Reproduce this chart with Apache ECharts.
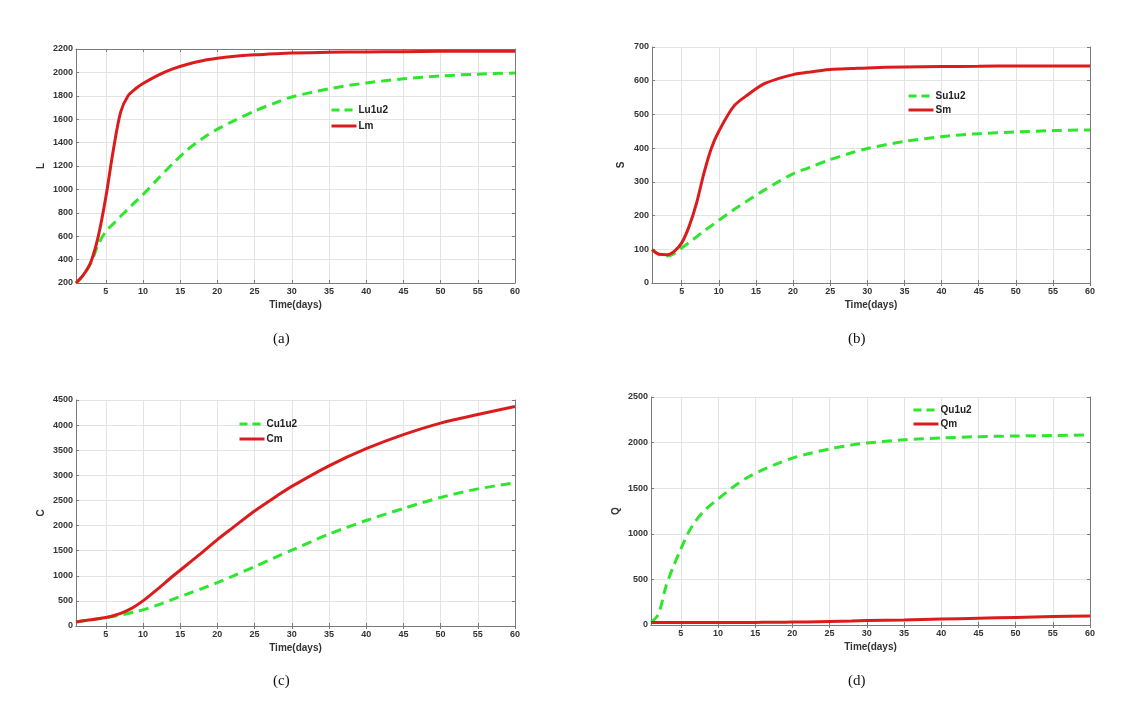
<!DOCTYPE html>
<html>
<head>
<meta charset="utf-8">
<style>
    html, body { margin: 0; padding: 0; background: #fff; }
    #chart { width: 1133px; height: 722px; }
</style>
</head>
<body>
<div id="chart"></div>
<script src="https://cdn.jsdelivr.net/npm/echarts@6.0.0/dist/echarts.min.js"></script>
<script>
    // time points (days) shared by every curve
    var days = [1, 2, 3, 4, 5, 6, 7, 8, 9, 10, 12, 14, 16, 18, 20, 22, 25, 28, 30, 35, 40, 45, 50, 55, 60];
    var xTicks = [5, 10, 15, 20, 25, 30, 35, 40, 45, 50, 55, 60];

    // (a) L
    var Lu1u2 = [200, 270, 370, 530, 640, 705, 770, 832, 895, 955, 1090, 1220, 1340, 1435, 1515, 1580, 1670, 1745, 1790, 1860, 1910, 1945, 1970, 1985, 1995];
    var Lm = [200, 270, 380, 600, 930, 1330, 1660, 1800, 1860, 1905, 1975, 2030, 2070, 2100, 2120, 2135, 2150, 2160, 2165, 2172, 2175, 2177, 2180, 2180, 2180];
    // (b) S
    var Su1u2 = [99, 84, 80, 87, 104, 120, 137, 154, 170, 186, 217, 246, 274, 300, 324, 341, 366, 387, 399, 420, 434, 443, 448, 452, 454];
    var Sm = [99, 85, 84, 94, 119, 168, 237, 326, 400, 450, 524, 560, 590, 606, 618, 625, 633, 636, 638, 641, 642, 643, 644, 644, 644];
    // (c) C
    var Cu1u2 = [80, 105, 125, 145, 165, 190, 215, 250, 285, 320, 420, 530, 640, 750, 865, 990, 1180, 1380, 1510, 1830, 2100, 2340, 2560, 2730, 2850];
    var Cm = [80, 105, 125, 145, 170, 205, 250, 315, 400, 500, 740, 990, 1230, 1470, 1720, 1950, 2290, 2590, 2780, 3190, 3530, 3810, 4040, 4210, 4370];
    // (d) Q
    var Qu1u2 = [30, 120, 420, 640, 830, 1010, 1140, 1240, 1315, 1380, 1510, 1620, 1700, 1770, 1830, 1875, 1930, 1975, 1995, 2030, 2050, 2065, 2073, 2078, 2085];
    var Qm = [28, 28, 27, 27, 27, 27, 27, 27, 27, 27, 27, 28, 29, 30, 32, 34, 38, 43, 48, 56, 65, 74, 83, 92, 100];

    var panels = [
        { grid: { left: 76, top: 49, width: 439, height: 234 }, yName: 'L', yGap: 30, min: 200, max: 2200, interval: 200,
          names: ['Lu1u2', 'Lm'], data: [Lu1u2, Lm], legend: { left: 330, top: 105, itemGap: 6 }, tag: '(a)', tagX: 285, tagY: 341 },
        { grid: { left: 652, top: 47, width: 438, height: 236 }, yName: 'S', yGap: 26, min: 0, max: 700, interval: 100,
          names: ['Su1u2', 'Sm'], data: [Su1u2, Sm], legend: { left: 907, top: 91, itemGap: 4 }, tag: '(b)', tagX: 860, tagY: 341 },
        { grid: { left: 76, top: 400, width: 439, height: 226 }, yName: 'C', yGap: 30, min: 0, max: 4500, interval: 500,
          names: ['Cu1u2', 'Cm'], data: [Cu1u2, Cm], legend: { left: 238, top: 419, itemGap: 5 }, tag: '(c)', tagX: 285, tagY: 683 },
        { grid: { left: 651, top: 397, width: 439, height: 228 }, yName: 'Q', yGap: 30, min: 0, max: 2500, interval: 500,
          names: ['Qu1u2', 'Qm'], data: [Qu1u2, Qm], legend: { left: 912, top: 405, itemGap: 4 }, tag: '(d)', tagX: 860, tagY: 683 }
    ];

    var plain = function (v) { return String(v); };
    var labelFont = { fontFamily: 'Liberation Sans', fontWeight: 'bold', fontSize: 9, color: '#333', formatter: plain };
    var frame = { show: true, lineStyle: { color: '#7a7a7a', width: 1 } };

    var option = { animation: false, backgroundColor: '#fff', grid: [], xAxis: [], yAxis: [], legend: [], series: [], graphic: [] };

    panels.forEach(function (p, i) {
        option.grid.push(p.grid);
        // bottom / left axes with labels
        option.xAxis.push({
            type: 'value', gridIndex: i, min: 1, max: 60, position: 'bottom',
            name: 'Time(days)', nameLocation: 'middle', nameGap: 17,
            nameTextStyle: { fontFamily: 'Liberation Sans', fontWeight: 'bold', fontSize: 10, color: '#333' },
            axisLine: frame,
            axisTick: { inside: true, length: 3, customValues: xTicks, lineStyle: { color: '#7a7a7a' } },
            axisLabel: Object.assign({ margin: 4, customValues: xTicks }, labelFont),
            splitLine: { show: true, lineStyle: { color: '#e3e3e3', width: 1 } }
        });
        option.yAxis.push({
            type: 'value', gridIndex: i, min: p.min, max: p.max, interval: p.interval, position: 'left',
            name: p.yName, nameLocation: 'middle', nameGap: p.yGap,
            nameTextStyle: { fontFamily: 'Liberation Sans', fontWeight: 'bold', fontSize: 10, color: '#333' },
            axisLine: frame,
            axisTick: { inside: true, length: 3, lineStyle: { color: '#7a7a7a' } },
            axisLabel: Object.assign({ margin: 3 }, labelFont),
            splitLine: { show: true, lineStyle: { color: '#e3e3e3', width: 1 } }
        });
        // top / right axes only for the box and the inward ticks
        option.xAxis.push({
            type: 'value', gridIndex: i, min: 1, max: 60, position: 'top',
            axisLine: frame,
            axisTick: { inside: true, length: 3, customValues: xTicks, lineStyle: { color: '#7a7a7a' } },
            axisLabel: { show: false }, splitLine: { show: false }
        });
        option.yAxis.push({
            type: 'value', gridIndex: i, min: p.min, max: p.max, interval: p.interval, position: 'right',
            axisLine: frame,
            axisTick: { inside: true, length: 3, lineStyle: { color: '#7a7a7a' } },
            axisLabel: { show: false }, splitLine: { show: false }
        });

        option.series.push({
            name: p.names[0], type: 'line', xAxisIndex: i * 2, yAxisIndex: i * 2,
            data: days.map(function (d, k) { return [d, p.data[0][k]]; }),
            symbol: 'none', showSymbol: false, smooth: 0.3,
            lineStyle: { color: '#2ee62e', width: 3, type: [10, 6] },
            itemStyle: { color: '#2ee62e' }
        });
        option.series.push({
            name: p.names[1], type: 'line', xAxisIndex: i * 2, yAxisIndex: i * 2,
            data: days.map(function (d, k) { return [d, p.data[1][k]]; }),
            symbol: 'none', showSymbol: false, smooth: 0.3,
            lineStyle: { color: '#dc1c1c', width: 3 },
            itemStyle: { color: '#dc1c1c' }
        });

        option.legend.push({
            data: [
                { name: p.names[0], lineStyle: { type: [8, 5], width: 3 } },
                { name: p.names[1], lineStyle: { width: 3 } }
            ],
            orient: 'vertical', left: p.legend.left, top: p.legend.top, itemGap: p.legend.itemGap,
            itemWidth: 25, itemHeight: 10, padding: 0,
            itemStyle: { opacity: 0 },
            textStyle: { fontFamily: 'Liberation Sans', fontWeight: 'bold', fontSize: 10, color: '#222', padding: [0, 0, 0, -3] }
        });

        option.graphic.push({
            type: 'text', left: p.tagX - 12, top: p.tagY - 9,
            style: { text: p.tag, font: '15px "Liberation Serif"', fill: '#111' }
        });
    });

    var chart = echarts.init(document.getElementById('chart'));
    chart.setOption(option);
</script>
</body>
</html>
